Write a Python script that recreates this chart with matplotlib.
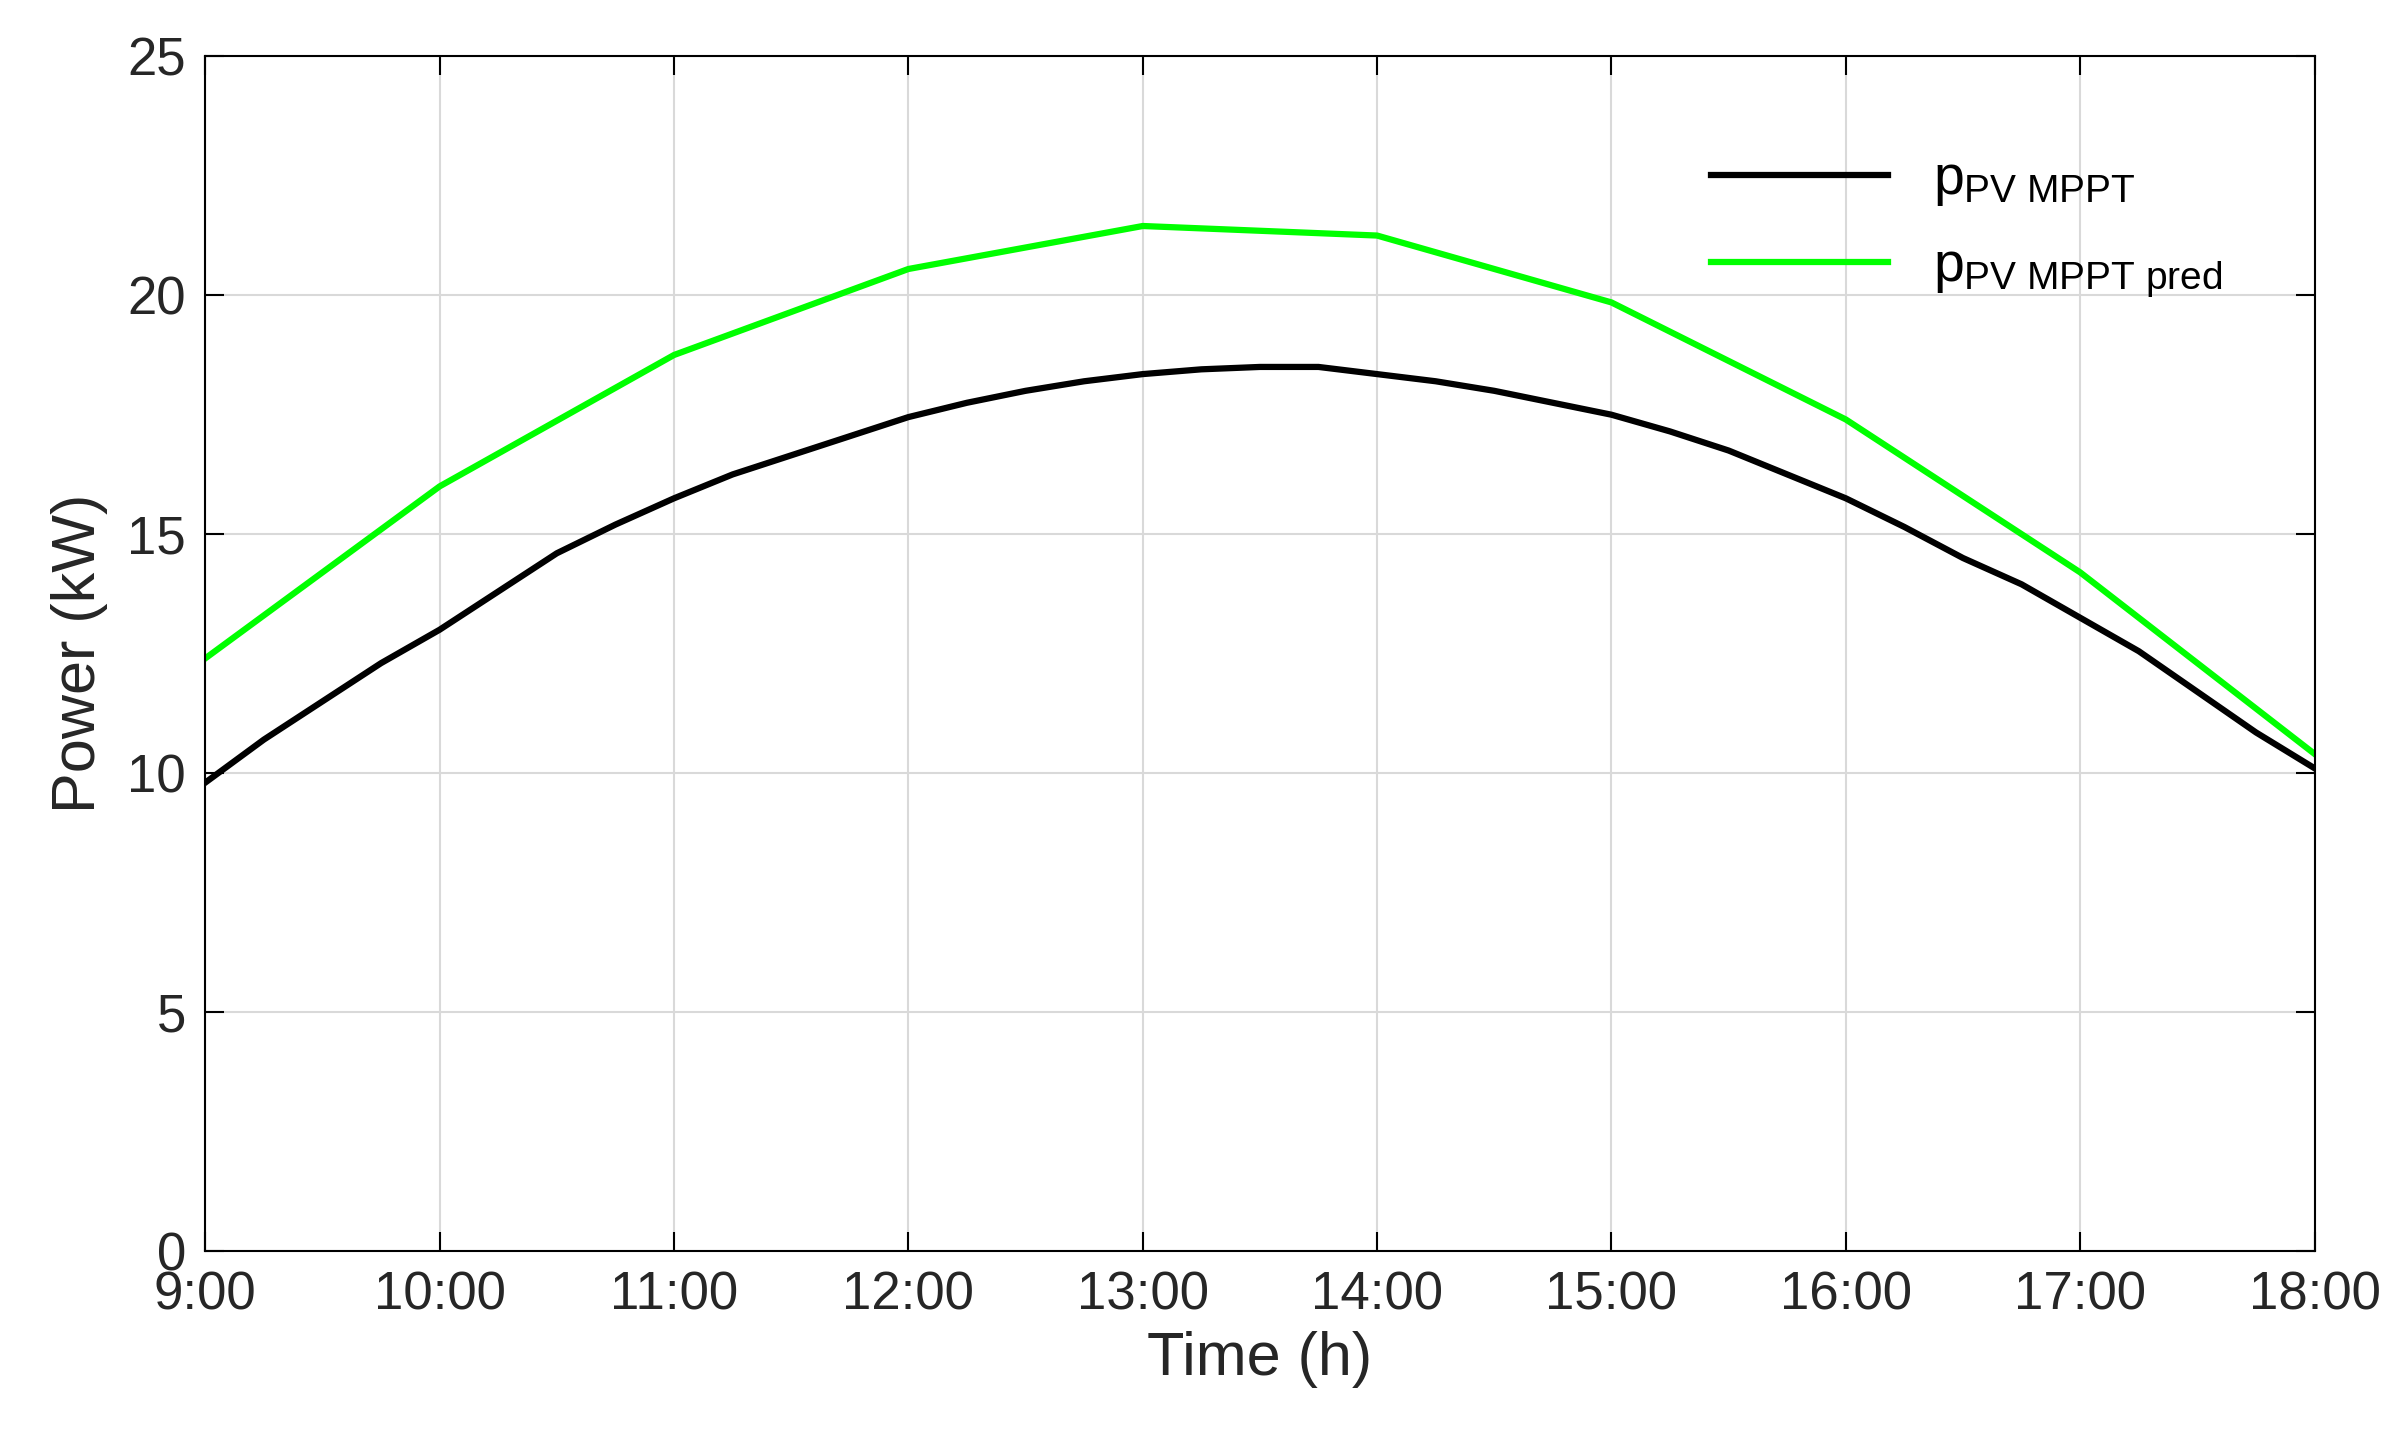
import numpy as np
import matplotlib.pyplot as plt

plt.rcParams['font.family'] = ['Liberation Sans', 'DejaVu Sans']
plt.rcParams['mathtext.fontset'] = 'custom'
plt.rcParams['mathtext.rm'] = 'Liberation Sans'
plt.rcParams['mathtext.it'] = 'Liberation Sans'

# hours after midnight, measured MPPT power (kW), read every 15 min
t_meas = [9.0, 9.25, 9.5, 9.75, 10.0, 10.25, 10.5, 10.75, 11.0, 11.25, 11.5, 11.75,
          12.0, 12.25, 12.5, 12.75, 13.0, 13.25, 13.5, 13.75, 14.0, 14.25, 14.5, 14.75,
          15.0, 15.25, 15.5, 15.75, 16.0, 16.25, 16.5, 16.75, 17.0, 17.25, 17.5, 17.75, 18.0]
p_meas = [9.8, 10.7, 11.5, 12.3, 13.0, 13.8, 14.6, 15.2, 15.75, 16.25, 16.65, 17.05,
          17.45, 17.75, 18.0, 18.2, 18.35, 18.45, 18.5, 18.5, 18.35, 18.2, 18.0, 17.75,
          17.5, 17.15, 16.75, 16.25, 15.75, 15.15, 14.5, 13.95, 13.25, 12.55, 11.7, 10.85, 10.1]

# hourly predicted power (kW)
t_pred = [9, 10, 11, 12, 13, 14, 15, 16, 17, 18]
p_pred = [12.4, 16.0, 18.75, 20.55, 21.45, 21.25, 19.85, 17.4, 14.2, 10.4]

tick_hours = list(range(9, 19))
tick_labels = [f'{h}:00' for h in tick_hours]

fig = plt.figure(figsize=(24.01, 14.46), dpi=100)
ax = fig.add_axes([0.0855, 0.135, 0.8785, 0.826])
ax.plot(t_meas, p_meas, color='black', lw=4.5, label=r'$p_{\mathrm{PV\ MPPT}}$')
ax.plot(t_pred, p_pred, color='#00ff00', lw=4.5, label=r'$p_{\mathrm{PV\ MPPT\ pred}}$')

ax.set_xlim(9, 18)
ax.set_ylim(0, 25)
ax.set_xticks(tick_hours)
ax.set_xticklabels(tick_labels)
ax.set_yticks([0, 5, 10, 15, 20, 25])
ax.grid(True, color='#d9d9d9', lw=1.5)
ax.tick_params(labelsize=38, direction='in', length=14, width=1.5, top=True, right=True,
               pad=14, labelcolor='#262626')
for s in ax.spines.values():
    s.set_linewidth(1.5)
ax.set_xlabel('Time (h)', fontsize=44, color='#262626', labelpad=8)
ax.set_ylabel('Power (kW)', fontsize=44, color='#262626', labelpad=14)
leg = ax.legend(loc='upper right', fontsize=40, frameon=False, handlelength=3.2,
                bbox_to_anchor=(0.98, 0.96), labelspacing=0.6)
fig.savefig('out.png')
